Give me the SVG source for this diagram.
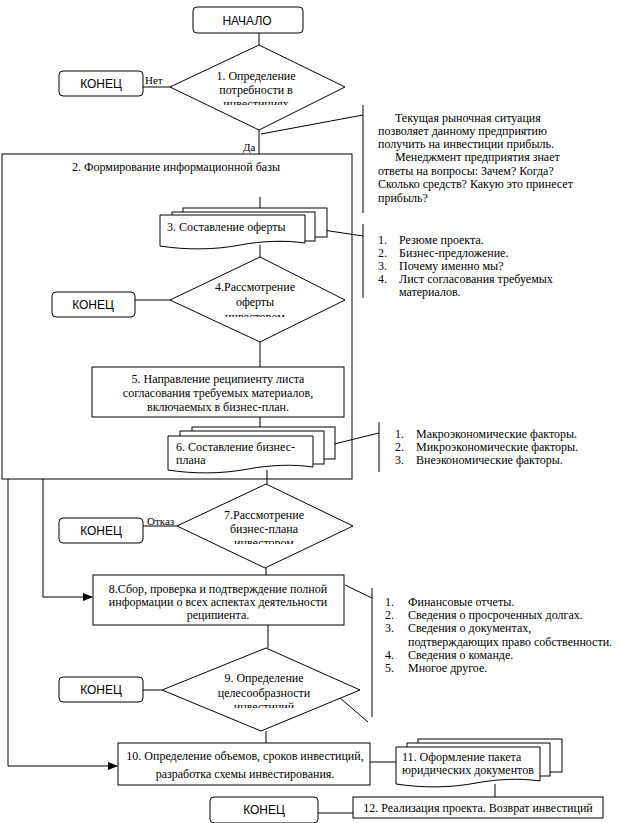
<svg xmlns="http://www.w3.org/2000/svg" width="622" height="823" viewBox="0 0 622 823">
<style>
.s{fill:none;stroke:#000;stroke-width:1}
.b{fill:#fff;stroke:#000;stroke-width:1}
.t{font-family:"Liberation Serif","Times New Roman",serif;font-size:12px;fill:#000}
.c{text-anchor:middle}
.k{font-family:"Liberation Sans",Arial,sans-serif;font-size:12px;fill:#000;text-anchor:middle}
.sm{font-size:11px}
</style>
<defs>
<marker id="ar" markerWidth="10" markerHeight="8" refX="9" refY="4" orient="auto" markerUnits="userSpaceOnUse">
<path d="M0,0 L10,4 L0,8 Z" fill="#000"/>
</marker>
<clipPath id="cl1"><rect x="170" y="40" width="180" height="65"/></clipPath>
<clipPath id="cl4"><rect x="170" y="250" width="180" height="67"/></clipPath>
<clipPath id="cl7"><rect x="170" y="480" width="190" height="64"/></clipPath>
<clipPath id="cl9"><rect x="160" y="640" width="200" height="68"/></clipPath>
</defs>
<rect width="622" height="823" fill="#fff"/>

<g id="container2">
<rect class="s" x="2" y="154" width="350" height="325"/>
<text class="t c" x="176" y="171">2. Формирование информационной базы</text>
</g>

<g id="connectors">
<line class="s" x1="259" y1="33" x2="259" y2="45"/>
<line class="s" x1="143" y1="87" x2="170" y2="87"/>
<line class="s" x1="259" y1="130" x2="259" y2="154"/>
<polyline class="s" points="261,134 363,115"/>
<line class="s" x1="363" y1="105" x2="363" y2="213"/>
<line class="s" x1="260" y1="197" x2="260" y2="209"/>
<polyline class="s" points="309,227 323,230 363,236"/>
<line class="s" x1="363" y1="224" x2="363" y2="298"/>
<line class="s" x1="260" y1="245" x2="260" y2="257"/>
<line class="s" x1="135" y1="300" x2="170" y2="300"/>
<line class="s" x1="260" y1="342" x2="260" y2="367"/>
<line class="s" x1="260" y1="417" x2="260" y2="427"/>
<polyline class="s" points="326,446 379,433"/>
<line class="s" x1="379" y1="422" x2="379" y2="472"/>
<line class="s" x1="267" y1="470" x2="267" y2="484"/>
<line class="s" x1="143" y1="526" x2="177" y2="526"/>
<line class="s" x1="266" y1="568" x2="266" y2="575"/>
<polyline class="s" points="43,479 43,597 92,597" marker-end="url(#ar)"/>
<polyline class="s" points="8,479 8,766 117,766" marker-end="url(#ar)"/>
<polyline class="s" points="345,585 372,598"/>
<line class="s" x1="372" y1="588" x2="372" y2="717"/>
<line class="s" x1="268" y1="625" x2="268" y2="648"/>
<line class="s" x1="143" y1="690" x2="162" y2="690"/>
<polyline class="s" points="340,698 368,722"/>
<line class="s" x1="266" y1="731" x2="266" y2="743"/>
<line class="s" x1="370" y1="762" x2="396" y2="762"/>
<line class="s" x1="495" y1="784" x2="495" y2="797"/>
<line class="s" x1="318" y1="813" x2="353" y2="813"/>
<text class="t sm" x="145" y="84">Нет</text>
<text class="t sm" x="243" y="151">Да</text>
<text class="t sm" x="147" y="525">Отказ</text>
</g>

<g id="start">
<rect class="b" x="193" y="7" width="110" height="26" rx="4"/>
<text class="k" x="247" y="25">НАЧАЛО</text>
</g>

<g id="d1">
<polygon class="b" points="259,45 345,87 259,130 170,87"/>
<g clip-path="url(#cl1)">
<text class="t c" x="256" y="80">1. Определение</text>
<text class="t c" x="256" y="94">потребности в</text>
<text class="t c" x="256" y="108">инвестициях</text>
</g>
</g>

<g id="end1">
<rect class="b" x="59" y="71" width="84" height="25" rx="4"/>
<text class="k" x="101" y="88">КОНЕЦ</text>
</g>

<g id="note1">
<text class="t" x="395" y="122">Текущая рыночная ситуация</text>
<text class="t" x="378" y="135">позволяет данному предприятию</text>
<text class="t" x="378" y="148">получить на инвестиции прибыль.</text>
<text class="t" x="395" y="161">Менеджмент предприятия знает</text>
<text class="t" x="378" y="175">ответы на вопросы:  Зачем? Когда?</text>
<text class="t" x="378" y="188">Сколько средств? Какую это принесет</text>
<text class="t" x="378" y="202">прибыль?</text>
</g>

<g id="b3">
<rect class="b" x="183" y="208" width="144" height="29"/>
<rect class="b" x="172" y="212" width="143" height="29"/>
<path class="b" d="M160,215 H305 V243 C285,240 262,241 240,245 C215,250 185,250 160,246 Z"/>
<text class="t" x="167" y="231">3. Составление оферты</text>
</g>

<g id="note3">
<text class="t" x="378" y="244">1.</text><text class="t" x="399" y="244">Резюме проекта.</text>
<text class="t" x="378" y="257">2.</text><text class="t" x="399" y="257">Бизнес-предложение.</text>
<text class="t" x="378" y="270">3.</text><text class="t" x="399" y="270">Почему именно мы?</text>
<text class="t" x="378" y="283">4.</text><text class="t" x="399" y="283">Лист согласования требуемых</text>
<text class="t" x="399" y="296">материалов.</text>
</g>

<g id="d4">
<polygon class="b" points="260,257 345,300 260,342 170,300"/>
<g clip-path="url(#cl4)">
<text class="t c" x="255" y="291">4.Рассмотрение</text>
<text class="t c" x="255" y="306">оферты</text>
<text class="t c" x="255" y="321">инвестором</text>
</g>
</g>

<g id="end2">
<rect class="b" x="52" y="292" width="83" height="25" rx="4"/>
<text class="k" x="93" y="309">КОНЕЦ</text>
</g>

<g id="b5">
<rect class="b" x="92" y="367" width="252" height="50"/>
<text class="t c" x="218" y="383">5. Направление реципиенту листа</text>
<text class="t c" x="218" y="397">согласования требуемых материалов,</text>
<text class="t c" x="218" y="411">включаемых в бизнес-план.</text>
</g>

<g id="b6">
<rect class="b" x="192" y="427" width="143" height="32"/>
<rect class="b" x="180" y="431" width="144" height="33"/>
<path class="b" d="M168,436 H313 V467 C293,464 270,465 248,469 C222,474 193,474 168,470 Z"/>
<text class="t" x="176" y="451">6. Составление бизнес-</text>
<text class="t" x="176" y="464">плана</text>
</g>

<g id="note6">
<text class="t" x="395" y="438">1.</text><text class="t" x="416" y="438">Макроэкономические факторы.</text>
<text class="t" x="395" y="451">2.</text><text class="t" x="416" y="451">Микроэкономические факторы.</text>
<text class="t" x="395" y="464">3.</text><text class="t" x="416" y="464">Внеэкономические факторы.</text>
</g>

<g id="d7">
<polygon class="b" points="266,484 353,526 265,568 177,526"/>
<g clip-path="url(#cl7)">
<text class="t c" x="264" y="519">7.Рассмотрение</text>
<text class="t c" x="264" y="533">бизнес-плана</text>
<text class="t c" x="264" y="547">инвестором</text>
</g>
</g>

<g id="end3">
<rect class="b" x="59" y="518" width="84" height="25" rx="4"/>
<text class="k" x="101" y="535">КОНЕЦ</text>
</g>

<g id="b8">
<rect class="b" x="93" y="575" width="251" height="50"/>
<text class="t c" x="218" y="593">8.Сбор, проверка и подтверждение полной</text>
<text class="t c" x="218" y="606">информации о всех аспектах деятельности</text>
<text class="t c" x="218" y="619">реципиента.</text>
</g>

<g id="note8">
<text class="t" x="385" y="606">1.</text><text class="t" x="408" y="606">Финансовые отчеты.</text>
<text class="t" x="385" y="619">2.</text><text class="t" x="408" y="619">Сведения о просроченных долгах.</text>
<text class="t" x="385" y="632">3.</text><text class="t" x="408" y="632">Сведения о документах,</text>
<text class="t" x="408" y="646">подтверждающих право собственности.</text>
<text class="t" x="385" y="659">4.</text><text class="t" x="408" y="659">Сведения о команде.</text>
<text class="t" x="385" y="672">5.</text><text class="t" x="408" y="672">Многое другое.</text>
</g>

<g id="d9">
<polygon class="b" points="266,648 360,690 261,731 162,690"/>
<g clip-path="url(#cl9)">
<text class="t c" x="264" y="682">9. Определение</text>
<text class="t c" x="264" y="697">целесообразности</text>
<text class="t c" x="264" y="711">инвестиций</text>
</g>
</g>

<g id="end4">
<rect class="b" x="59" y="677" width="84" height="25" rx="4"/>
<text class="k" x="101" y="694">КОНЕЦ</text>
</g>

<g id="b10">
<rect class="b" x="118" y="743" width="252" height="42"/>
<text class="t c" x="245" y="760">10. Определение объемов, сроков инвестиций,</text>
<text class="t c" x="245" y="778">разработка схемы инвестирования.</text>
</g>

<g id="b11">
<rect class="b" x="418" y="739" width="144" height="33"/>
<rect class="b" x="407" y="743" width="143" height="33"/>
<path class="b" d="M396,747 H540 V781 C520,778 498,779 476,783 C450,788 422,788 396,784 Z"/>
<text class="t" x="402" y="761">11. Оформление пакета</text>
<text class="t" x="402" y="774">юридических  документов</text>
</g>

<g id="b12">
<rect class="b" x="353" y="797" width="250" height="21"/>
<text class="t c" x="478" y="812">12. Реализация проекта. Возврат инвестиций</text>
</g>

<g id="end5">
<rect class="b" x="210" y="797" width="108" height="26" rx="4"/>
<text class="k" x="264" y="814">КОНЕЦ</text>
</g>
</svg>
